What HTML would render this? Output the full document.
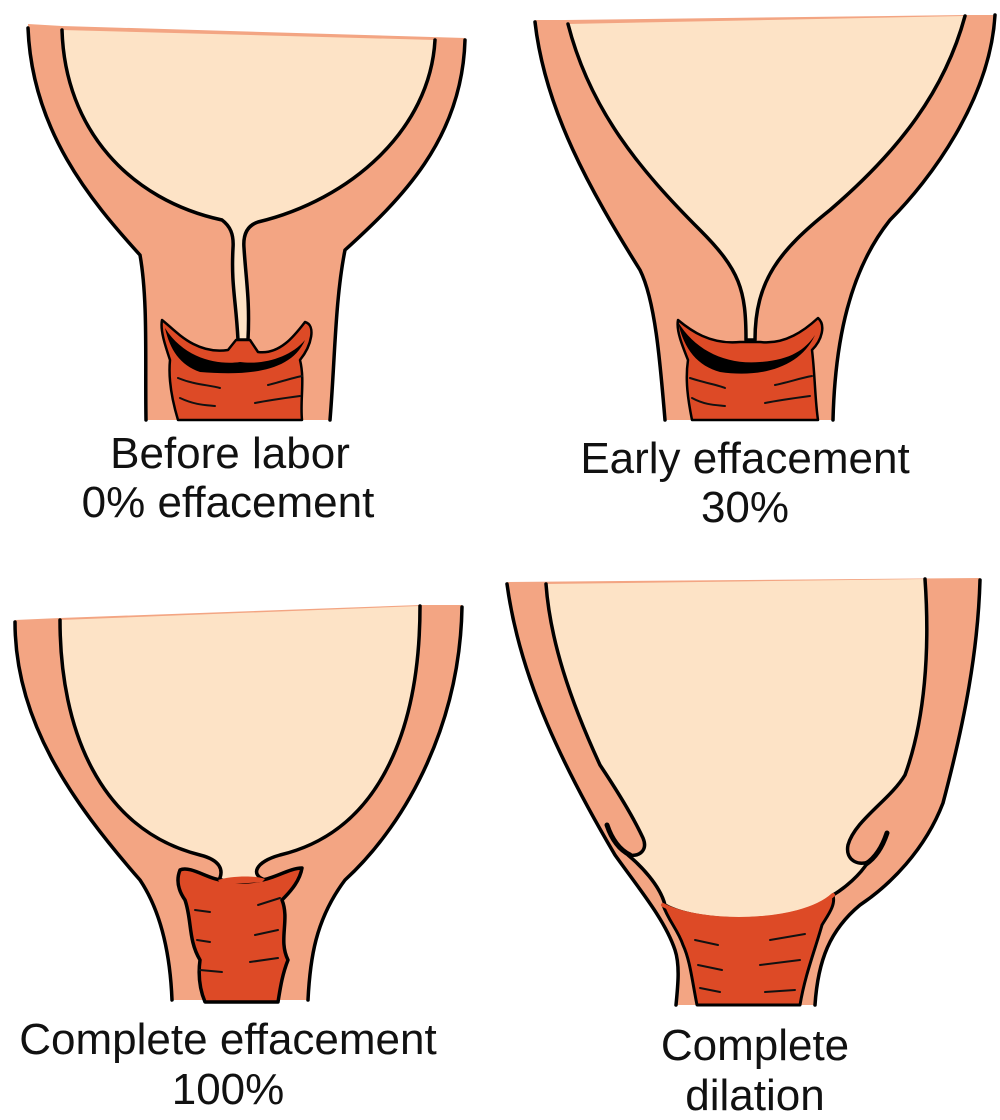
<!DOCTYPE html>
<html><head><meta charset="utf-8"><style>
body{margin:0;background:#fff}
svg{display:block}
text{font-family:"Liberation Sans",sans-serif;font-size:44px;fill:#111;text-anchor:middle}
</style></head><body>
<svg width="1000" height="1120" viewBox="0 0 1000 1120">
<g stroke-linejoin="round" stroke-linecap="round">
<!-- Panel 1 -->
<path d="M28,24 L62,26 L465,38 C462,140 400,200 345,250 C335,300 335,360 330,420 L146,420 C145,360 148,300 140,255 C90,200 32,130 28,24 Z" fill="#F3A583"/>
<path d="M28,28 C32,130 90,200 140,255 C148,300 145,360 146,420" fill="none" stroke="#000" stroke-width="3.5"/>
<path d="M465,40 C462,140 400,200 345,250 C335,300 335,360 330,420" fill="none" stroke="#000" stroke-width="3.5"/>
<path d="M435,40 C430,130 350,200 258,222 C246,226 243,236 244,248 C246,280 250,300 248,340 L238,340 C236,300 231,285 233,248 C234,234 230,226 222,220 C130,200 65,130 62,30" fill="#FDE3C6" stroke="#000" stroke-width="3.5"/>
<path d="M162,320 C175,330 195,355 228,350 L236,340 L250,340 L258,352 C280,355 295,335 305,322 C316,325 312,345 300,360 C305,380 300,400 302,420 L178,420 C172,400 168,380 170,360 C165,345 160,330 162,320 Z" fill="#DD4A26" stroke="#000" stroke-width="2.5"/>
<path d="M165,328 C185,360 220,365 240,362 C262,365 290,358 305,340 C290,375 240,375 200,372 C180,365 170,350 165,328 Z" fill="#000"/>
<g stroke="#111" stroke-width="2" fill="none"><path d="M178,378 C195,385 210,385 220,388"/><path d="M268,385 C280,382 292,378 302,376"/><path d="M180,398 C195,405 205,405 215,406"/><path d="M255,403 C270,400 285,398 300,396"/></g>
<!-- Panel 2 -->
<path d="M535,20 L565,20 L965,15 L995,15 C990,100 930,180 890,220 C850,270 835,340 833,420 L665,420 C660,360 655,300 640,270 C590,190 545,110 535,20 Z" fill="#F3A583"/>
<path d="M535,22 C545,110 590,190 640,270 C655,300 660,360 665,420" fill="none" stroke="#000" stroke-width="3.5"/>
<path d="M995,15 C990,100 930,180 890,220 C850,270 835,340 833,420" fill="none" stroke="#000" stroke-width="3.5"/>
<path d="M965,16 C945,90 900,150 830,210 C780,250 755,280 755,340 L746,340 C746,290 740,270 700,230 C640,170 590,110 568,24" fill="#FDE3C6" stroke="#000" stroke-width="3.5"/>
<path d="M678,320 C690,330 710,345 740,342 L760,342 C785,345 805,330 818,318 C826,325 822,340 812,350 C815,375 815,400 818,420 L692,420 C688,400 685,380 688,360 C682,345 676,330 678,320 Z" fill="#DD4A26" stroke="#000" stroke-width="2.5"/>
<path d="M678,322 C695,350 725,365 760,362 C790,360 805,350 815,335 C800,368 760,378 720,372 C698,366 684,350 678,322 Z" fill="#000"/>
<g stroke="#111" stroke-width="2" fill="none"><path d="M690,378 C705,383 718,385 725,388"/><path d="M775,385 C790,382 800,378 812,376"/><path d="M692,398 C705,405 715,405 725,406"/><path d="M765,403 C780,400 795,398 810,396"/></g>
<!-- Panel 3 -->
<path d="M15,620 L60,618 L420,605 L462,605 C460,720 410,820 345,880 C315,920 310,960 308,1000 L172,1000 C170,950 160,910 140,880 C70,800 15,720 15,620 Z" fill="#F3A583"/>
<path d="M15,622 C15,720 70,800 140,880 C160,910 170,950 172,1000" fill="none" stroke="#000" stroke-width="3.5"/>
<path d="M462,607 C460,720 410,820 345,880 C315,920 310,960 308,1000" fill="none" stroke="#000" stroke-width="3.5"/>
<path d="M420,606 C420,720 385,830 280,855 C255,862 250,875 265,880 L218,882 C225,870 220,860 200,855 C100,830 60,730 60,620" fill="#FDE3C6" stroke="#000" stroke-width="3.5"/>
<path d="M180,870 C190,865 210,880 222,880 C235,884 250,882 262,880 C275,878 290,868 302,868 C300,880 292,890 282,900 C290,920 278,940 288,960 C282,975 280,990 278,1002 L205,1002 C200,990 198,975 200,960 C188,940 192,920 185,900 C178,890 176,880 180,870 Z" fill="#DD4A26" stroke="#000" stroke-width="3.5"/>
<path d="M218,880 C230,876 255,875 265,879 L262,882 L222,885 Z" fill="#DD4A26"/>
<g stroke="#111" stroke-width="2" fill="none"><path d="M195,910 L210,912"/><path d="M258,905 L280,898"/><path d="M197,940 L210,942"/><path d="M255,935 L278,930"/><path d="M200,970 L222,972"/><path d="M250,962 L278,958"/></g>
<!-- Panel 4 -->
<path d="M507,582 L980,578 C978,650 965,720 943,803 C925,850 890,885 860,905 C830,930 818,960 815,1005 L676,1005 C678,980 680,960 675,950 C665,920 640,890 615,855 C565,770 520,680 507,582 Z" fill="#F3A583"/>
<path d="M507,584 C520,680 565,770 615,855 C640,890 665,920 675,950 C680,965 678,985 676,1005" fill="none" stroke="#000" stroke-width="3.5"/>
<path d="M980,580 C978,650 965,720 943,803 C925,850 890,885 860,905 C830,930 818,960 815,1005" fill="none" stroke="#000" stroke-width="3.5"/>
<path d="M925,579 C930,650 925,720 905,775 C890,800 855,820 848,845 C845,860 858,866 868,862 C860,875 845,888 833,895 C800,925 700,925 665,905 C660,885 640,865 628,855 C640,857 648,850 643,838 C630,810 610,780 600,765 C570,700 550,640 546,584" fill="#FDE3C6" stroke="#000" stroke-width="3.5"/>
<path d="M607,825 C612,840 620,850 630,855" fill="none" stroke="#000" stroke-width="5"/>
<path d="M887,833 C882,848 875,858 866,864" fill="none" stroke="#000" stroke-width="5"/>
<path d="M663,905 C700,925 800,925 833,895 C836,905 828,915 822,925 C815,950 805,975 800,1005 L697,1005 C692,980 690,960 683,945 C678,930 668,920 663,905 Z" fill="#DD4A26" stroke="#000" stroke-width="3"/>
<path d="M663,905 C700,925 800,925 833,895" fill="none" stroke="#DD4A26" stroke-width="4"/>
<g stroke="#111" stroke-width="2" fill="none"><path d="M695,940 L718,945"/><path d="M770,940 L805,934"/><path d="M698,965 L722,970"/><path d="M760,965 L800,960"/><path d="M700,988 L720,992"/><path d="M765,992 L795,990"/></g>
</g>
<text x="230" y="468">Before labor</text>
<text x="228" y="517">0% effacement</text>
<text x="745" y="473">Early effacement</text>
<text x="745" y="522">30%</text>
<text x="228" y="1054">Complete effacement</text>
<text x="228" y="1104">100%</text>
<text x="755" y="1060">Complete</text>
<text x="755" y="1110">dilation</text>
</svg>
</body></html>
